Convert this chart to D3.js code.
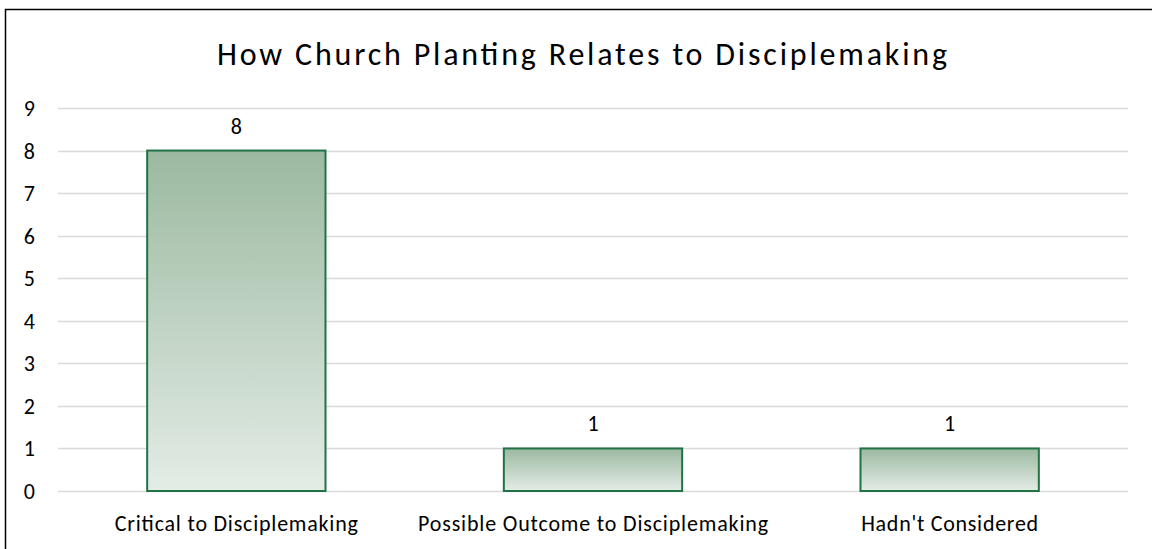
<!DOCTYPE html>
<html>
<head>
<meta charset="utf-8">
<script src="https://cdn.jsdelivr.net/npm/d3@7/dist/d3.min.js"></script>
<style>
  html, body { margin: 0; padding: 0; background: #fff; }
  svg { display: block; }
  text { font-family: Carlito, Calibri, Lato, sans-serif; fill: #000; }
</style>
</head>
<body>
<svg id="chart" width="1152" height="549"></svg>
<script>
// Chart data
const chartTitle = "How Church Planting Relates to Disciplemaking";
const categories = ["Critical to Disciplemaking", "Possible Outcome to Disciplemaking", "Hadn't Considered"];
const counts = [8, 1, 1];
const yTicks = [0, 1, 2, 3, 4, 5, 6, 7, 8, 9];

const W = 1152, H = 549;
const margin = { left: 58, right: 24, top: 108, bottom: 58 };
const FONT = "Carlito, Calibri, Lato, sans-serif";

const svg = d3.select("#chart");

// Gradient fill for the bars: darker sage at top, pale at bottom
const defs = svg.append("defs");
const grad = defs.append("linearGradient")
  .attr("id", "barFill")
  .attr("x1", 0).attr("y1", 0).attr("x2", 0).attr("y2", 1);
grad.append("stop").attr("offset", "0%").attr("stop-color", "#9bb9a0");
grad.append("stop").attr("offset", "100%").attr("stop-color", "#e4ece6");

// Outer frame
svg.append("rect")
  .attr("x", 5.5).attr("y", 9.5)
  .attr("width", W + 20).attr("height", H + 20)
  .attr("fill", "none").attr("stroke", "#000").attr("stroke-width", 1.5);

const x = d3.scaleBand()
  .domain(categories)
  .range([margin.left, W - margin.right])
  .paddingInner(0.5)
  .paddingOuter(0.25);

const y = d3.scaleLinear()
  .domain([0, 9])
  .range([H - margin.bottom, margin.top]);

// Gridlines
svg.append("g")
  .selectAll("line")
  .data(yTicks)
  .join("line")
  .attr("x1", margin.left).attr("x2", W - margin.right)
  .attr("y1", d => Math.round(y(d)) + 0.5).attr("y2", d => Math.round(y(d)) + 0.5)
  .attr("stroke", "#d9d9d9").attr("stroke-width", 1.5);

// Y axis labels
const yAxis = d3.axisLeft(y).tickValues(yTicks).tickSize(0).tickPadding(0).tickFormat(d3.format("d"));
const gy = svg.append("g").attr("transform", "translate(35,0)").call(yAxis);
gy.select(".domain").remove();
gy.selectAll("text")
  .attr("font-size", 22)
  .attr("font-family", FONT)
  .attr("fill", "#000")
  .attr("dy", "0.34em");

// Bars
svg.append("g")
  .selectAll("rect")
  .data(counts)
  .join("rect")
  .attr("x", (d, i) => x(categories[i]))
  .attr("y", d => y(d))
  .attr("width", x.bandwidth())
  .attr("height", d => y(0) - y(d))
  .attr("fill", "url(#barFill)")
  .attr("stroke", "#217346")
  .attr("stroke-width", 2);

// Value labels
svg.append("g")
  .selectAll("text")
  .data(counts)
  .join("text")
  .attr("x", (d, i) => x(categories[i]) + x.bandwidth() / 2)
  .attr("y", d => y(d) - 17)
  .attr("text-anchor", "middle")
  .attr("font-size", 22)
  .text(d => d);

// Category labels, spaced to the label widths of the layout
const labelWidths = [243, 350, 177];
const xAxis = d3.axisBottom(x).tickSize(0).tickPadding(0);
const gx = svg.append("g").attr("transform", `translate(0,${H - margin.bottom})`).call(xAxis);
gx.select(".domain").remove();
gx.selectAll("text")
  .attr("font-size", 22)
  .attr("font-family", FONT)
  .attr("fill", "#000")
  .attr("dy", 0)
  .attr("y", 40)
  .attr("textLength", (d, i) => labelWidths[i])
  .attr("lengthAdjust", "spacing");

// Title
svg.append("text")
  .attr("x", 582)
  .attr("y", 65)
  .attr("text-anchor", "middle")
  .attr("font-size", 32)
  .attr("textLength", 730)
  .attr("lengthAdjust", "spacing")
  .text(chartTitle);
</script>
</body>
</html>
